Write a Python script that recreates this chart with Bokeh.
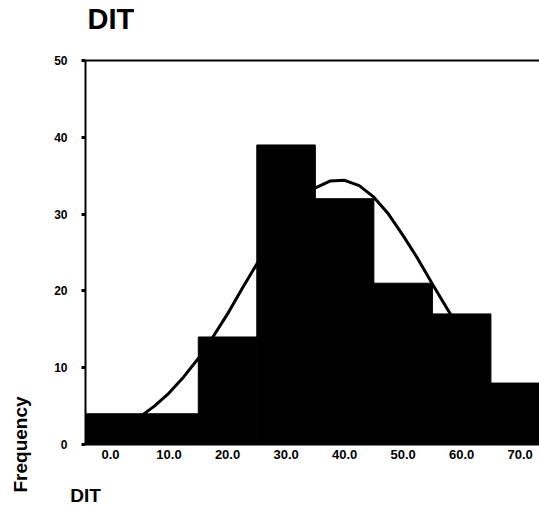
from bokeh.plotting import figure
from bokeh.models import Range1d, FixedTicker, Span, LinearAxis
from bokeh.embed import file_html
from bokeh.resources import INLINE

# Data
bin_centers = [0, 10, 20, 30, 40, 50, 60, 70]
frequencies = [4, 4, 14, 39, 32, 21, 17, 8]
x_ticks = [0, 10, 20, 30, 40, 50, 60, 70]
x_tick_labels = ["0.0", "10.0", "20.0", "30.0", "40.0", "50.0", "60.0", "70.0"]
y_ticks = [0, 10, 20, 30, 40, 50]
y_tick_labels = ["0", "10", "20", "30", "40", "50"]

# Normal curve, points
curve_x = [5, 7.5, 10, 12.5, 15, 17.5, 20, 22.5, 25, 27.5, 30, 32.5, 35, 37.5,
           40, 42.5, 45, 47.5, 50, 52.5, 55, 57.5, 60, 62.5]
curve_y = [3.6, 5.0, 6.7, 8.8, 11.2, 14.0, 17.0, 20.3, 23.5, 26.6, 29.5, 31.8, 33.4, 34.3,
           34.4, 33.7, 32.2, 30.0, 27.2, 24.2, 20.9, 17.7, 14.6, 11.7]

title_text = "DIT"
x_title = "DIT"
y_title = "Frequency"

FONT = "Liberation Sans"
X_START, X_END = -4.27, 73.3
Y_TOP = 52.86  # room above the 50 line for the title

p = figure(width=539, height=511, output_backend="svg", toolbar_location=None,
           x_range=Range1d(X_START, X_END), y_range=Range1d(0, Y_TOP))
p.min_border_left = 85
p.min_border_right = 0
p.min_border_top = 38
p.min_border_bottom = 67
p.outline_line_color = None
p.grid.visible = False
p.background_fill_color = "white"
p.border_fill_color = "white"

# curve below bars
p.line(curve_x, curve_y, line_color="black", line_width=3)
p.vbar(x=bin_centers, top=frequencies, width=10, bottom=0,
       fill_color="black", line_color="black", line_width=1)

# top frame line at the top tick
p.add_layout(Span(location=y_ticks[-1], dimension="width", line_color="black", line_width=2))

# x axis
xa = p.xaxis[0]
xa.ticker = FixedTicker(ticks=x_ticks)
xa.major_label_overrides = {t: l for t, l in zip(x_ticks, x_tick_labels)}
xa.major_tick_out = 0
xa.major_tick_in = 0
xa.minor_tick_line_color = None
xa.axis_line_color = "black"
xa.axis_line_width = 2
xa.major_label_standoff = 5
xa.major_label_text_font = FONT
xa.major_label_text_font_style = "bold"
xa.major_label_text_font_size = "13px"
xa.major_label_text_color = "black"

# y axis
ya = p.yaxis[0]
ya.ticker = FixedTicker(ticks=y_ticks)
ya.bounds = (y_ticks[0], y_ticks[-1])
ya.major_label_overrides = {t: l for t, l in zip(y_ticks, y_tick_labels)}
ya.major_tick_out = 4
ya.major_tick_in = 0
ya.major_tick_line_width = 3
ya.minor_tick_line_color = None
ya.axis_line_color = "black"
ya.axis_line_width = 2
ya.major_label_standoff = 14
ya.major_label_text_font = FONT
ya.major_label_text_font_style = "bold"
ya.major_label_text_font_size = "12px"
ya.major_label_text_color = "black"

# title
p.title.text = title_text
p.title.align = "left"
p.title.offset = 2
p.title.standoff = 4
p.title.vertical_align = "top"
p.title.text_font = FONT
p.title.text_font_size = "29px"
p.title.text_font_style = "bold"
p.title.text_color = "black"


def label_axis(text, standoff, size):
    return LinearAxis(ticker=FixedTicker(ticks=[]), axis_label=text,
                      axis_label_standoff=standoff, axis_label_align="start",
                      axis_label_text_align="left",
                      axis_line_color=None,
                      major_tick_out=0, major_tick_in=0, minor_tick_out=0, minor_tick_in=0,
                      major_label_standoff=0,
                      axis_label_text_font=FONT, axis_label_text_font_size=size,
                      axis_label_text_font_style="bold", axis_label_text_color="black")


# axis titles placed at the start of their axes as in the reference
p.add_layout(label_axis(x_title, 23, "19px"), "below")
p.add_layout(label_axis(y_title, 21, "19px"), "left")

open("out.html", "w").write(file_html(p, INLINE))
